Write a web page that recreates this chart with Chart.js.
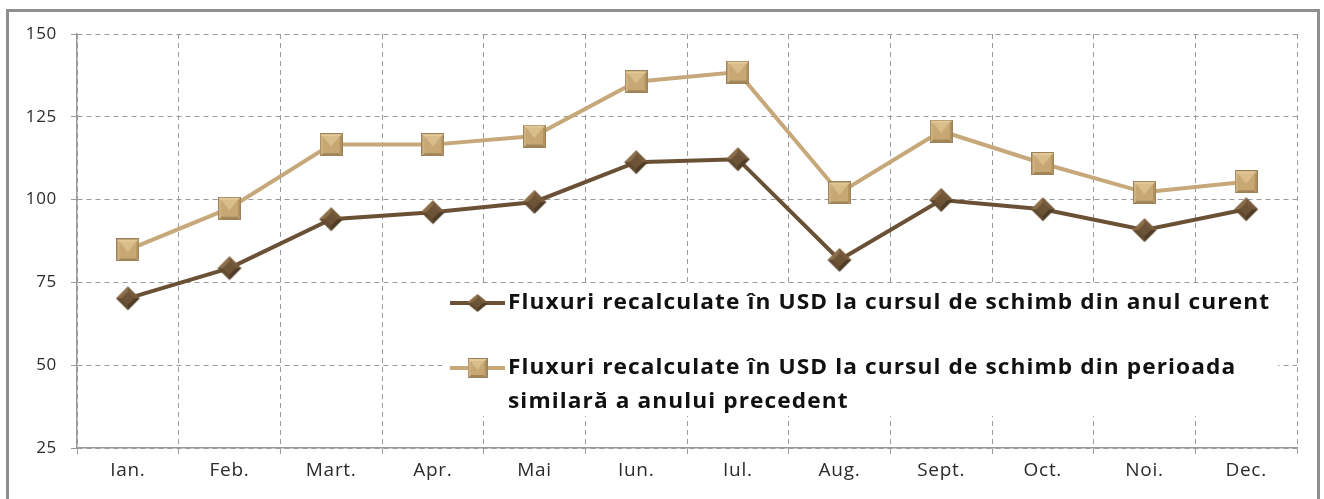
<!DOCTYPE html>
<html>
<head>
<meta charset="utf-8">
<script src="https://cdn.jsdelivr.net/npm/chart.js@4"></script>
<style>
  html, body { margin: 0; padding: 0; background: #fff; }
  #wrap { position: relative; width: 1324px; height: 499px; overflow: hidden; }
  #frame {
    position: absolute; left: 6px; top: 9px; width: 1308px; height: 600px;
    border: 3px solid #8f8f8f; pointer-events: none;
  }
</style>
</head>
<body>
<div id="wrap">
  <canvas id="chart" width="1324" height="499"></canvas>
  <div id="frame"></div>
</div>
<script>
// Months (Romanian abbreviations)
const months = ['Ian.', 'Feb.', 'Mart.', 'Apr.', 'Mai', 'Iun.', 'Iul.', 'Aug.', 'Sept.', 'Oct.', 'Noi.', 'Dec.'];

// Flows recalculated in USD at the current year exchange rate
const currentRate = [70.2, 79.3, 94.1, 96.2, 99.3, 111.3, 112.2, 81.8, 99.9, 97.1, 90.8, 97.1];

// Flows recalculated in USD at the exchange rate of the same period last year
const previousRate = [84.8, 97.4, 116.6, 116.6, 119.2, 135.6, 138.5, 102.0, 120.7, 110.9, 102.2, 105.4];

const legendLabels = [
    ['Fluxuri recalculate în USD la cursul de schimb din anul curent'],
    ['Fluxuri recalculate în USD la cursul de schimb din perioada', 'similară a anului precedent']
];

const yTicks = { min: 25, max: 150, step: 25 };

const darkLine = '#6a5035';
const lightLine = '#c6a87a';
const gridColor = '#9a9a9a';
const textColor = '#2b2b2b';
const fontFamily = '"Open Sans", Lato, sans-serif';

// Bevelled marker images (diamond and square)
function makeDiamond(rx, ry) {
    const c = document.createElement('canvas');
    c.width = rx * 2 + 2;
    c.height = ry * 2 + 2;
    const g = c.getContext('2d');
    const mx = rx + 1, my = ry + 1;
    const faces = [
        [[mx - rx, my], [mx, my - ry], '#8b6d49'],
        [[mx, my - ry], [mx + rx, my], '#765a3b'],
        [[mx + rx, my], [mx, my + ry], '#4f3c27'],
        [[mx, my + ry], [mx - rx, my], '#624b31']
    ];
    faces.forEach(f => {
        g.beginPath();
        g.moveTo(f[0][0], f[0][1]);
        g.lineTo(f[1][0], f[1][1]);
        g.lineTo(mx, my);
        g.closePath();
        g.fillStyle = f[2];
        g.fill();
    });
    g.beginPath();
    g.moveTo(mx - rx * 0.55, my);
    g.lineTo(mx, my - ry * 0.55);
    g.lineTo(mx + rx * 0.55, my);
    g.lineTo(mx, my + ry * 0.55);
    g.closePath();
    g.fillStyle = '#6e5436';
    g.fill();
    return c;
}

function makeSquare(s) {
    const c = document.createElement('canvas');
    c.width = c.height = s;
    const g = c.getContext('2d');
    const m = s / 2;
    const faces = [
        [[0, 0], [s, 0], '#e3c998'],
        [[s, 0], [s, s], '#b39260'],
        [[s, s], [0, s], '#a3855a'],
        [[0, s], [0, 0], '#cfb283']
    ];
    faces.forEach(f => {
        g.beginPath();
        g.moveTo(f[0][0], f[0][1]);
        g.lineTo(f[1][0], f[1][1]);
        g.lineTo(m, m);
        g.closePath();
        g.fillStyle = f[2];
        g.fill();
    });
    g.fillStyle = '#c7a873';
    g.fillRect(3, 3, s - 6, s - 6);
    g.beginPath();
    g.moveTo(3, 3);
    g.lineTo(s - 3, 3);
    g.lineTo(m, m + 2);
    g.closePath();
    g.fillStyle = '#d9bd8a';
    g.fill();
    g.strokeStyle = '#9c8258';
    g.lineWidth = 1;
    g.strokeRect(0.5, 0.5, s - 1, s - 1);
    return c;
}

const diamondImg = makeDiamond(12, 12);
const squareImg = makeSquare(23);
const legendDiamond = makeDiamond(11, 9);
const legendSquare = makeSquare(20);

// Slightly tracked text, like the original office font
const tracking = {
    id: 'tracking',
    beforeDraw(chart) { chart.ctx.save(); chart.ctx.letterSpacing = '0.7px'; },
    afterDraw(chart) { chart.ctx.restore(); }
};

// Legend drawn inside the plot area, as in the original
const insideLegend = {
    id: 'insideLegend',
    afterDatasetsDraw(chart) {
        const ctx = chart.ctx;
        const rows = [
            { y: 303, color: darkLine, img: legendDiamond, lines: legendLabels[0] },
            { y: 368, color: lightLine, img: legendSquare, lines: legendLabels[1] }
        ];
        const x0 = 450, x1 = 505, tx = 508;
        const target = 762, sx = 1.08;
        ctx.save();
        ctx.fillStyle = '#fff';
        ctx.fillRect(442, 285, 836, 131);
        ctx.letterSpacing = '0px';
        ctx.font = 'bold 21px ' + fontFamily;
        // slight stretch plus tracking to match the wide original font
        const w = ctx.measureText(legendLabels[0][0]).width;
        const sp = Math.max(0, (target / sx - w) / legendLabels[0][0].length);
        ctx.letterSpacing = sp.toFixed(2) + 'px';
        ctx.textBaseline = 'middle';
        rows.forEach(r => {
            ctx.strokeStyle = r.color;
            ctx.lineWidth = 4;
            ctx.beginPath();
            ctx.moveTo(x0, r.y);
            ctx.lineTo(x1, r.y);
            ctx.stroke();
            ctx.drawImage(r.img, (x0 + x1) / 2 - r.img.width / 2, r.y - r.img.height / 2);
            ctx.fillStyle = '#111';
            r.lines.forEach((t, i) => {
                ctx.save();
                ctx.translate(tx, r.y + i * 34);
                ctx.scale(sx, 1);
                ctx.fillText(t, 0, 0);
                ctx.restore();
            });
        });
        ctx.restore();
    }
};

new Chart(document.getElementById('chart'), {
    type: 'line',
    data: {
        labels: months,
        datasets: [
            {
                label: legendLabels[0].join(' '),
                data: currentRate,
                borderColor: darkLine,
                borderWidth: 4,
                pointStyle: diamondImg,
                tension: 0
            },
            {
                label: legendLabels[1].join(' '),
                data: previousRate,
                borderColor: lightLine,
                borderWidth: 4,
                pointStyle: squareImg,
                tension: 0
            }
        ]
    },
    options: {
        responsive: false,
        animation: false,
        layout: { padding: { left: 0, right: 27, top: 34, bottom: 0 } },
        plugins: {
            legend: { display: false },
            tooltip: { enabled: false }
        },
        scales: {
            x: {
                offset: true,
                grid: {
                    offset: true,
                    color: gridColor,
                    lineWidth: 1,
                    tickLength: 6,
                    tickColor: gridColor
                },
                border: { display: true, color: gridColor, width: 1.5, dash: [5, 4] },
                ticks: {
                    color: textColor,
                    font: { family: fontFamily, size: 19 },
                    padding: 5,
                    maxRotation: 0
                },
                afterFit(scale) { scale.height = 51; }
            },
            y: {
                min: yTicks.min,
                max: yTicks.max,
                grid: {
                    color: gridColor,
                    lineWidth: 1,
                    tickLength: 6,
                    tickColor: gridColor
                },
                border: { display: true, color: gridColor, width: 1.5, dash: [5, 4] },
                ticks: {
                    stepSize: yTicks.step,
                    color: textColor,
                    font: { family: fontFamily, size: 17 },
                    padding: 14
                },
                afterFit(scale) { scale.width = 77; }
            }
        }
    },
    plugins: [tracking, insideLegend]
});
</script>
</body>
</html>
